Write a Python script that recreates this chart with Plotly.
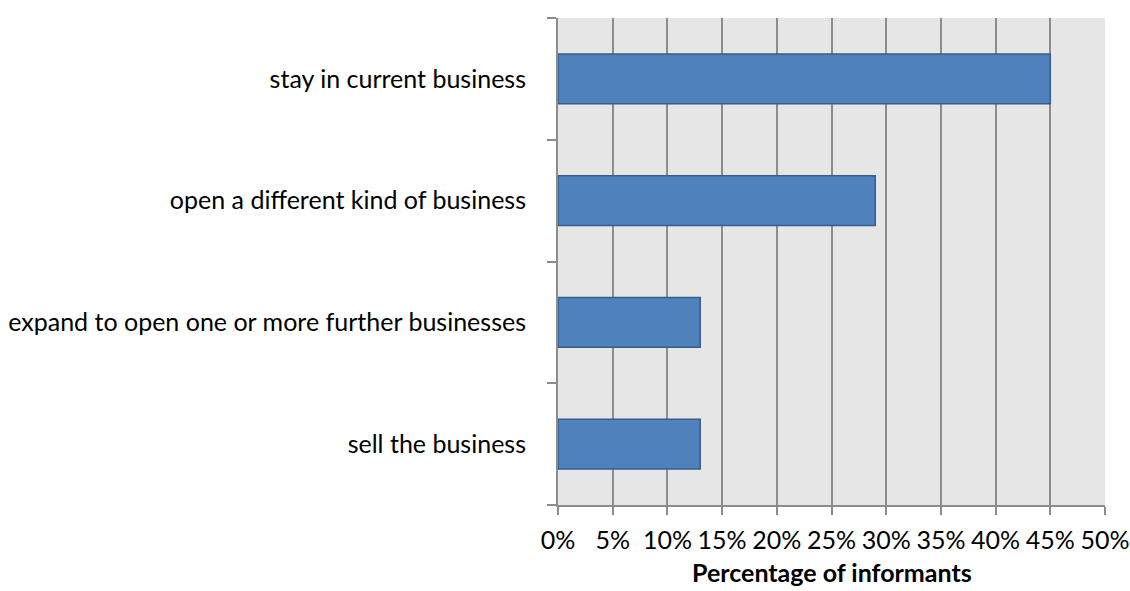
import plotly.graph_objects as go

# Survey answers, listed bottom to top as drawn
categories = [
    "sell the business",
    "expand to open one or more further businesses",
    "open a different kind of business",
    "stay in current business",
]
shares = [0.13, 0.13, 0.29, 0.45]
tick_values = [0, 0.05, 0.10, 0.15, 0.20, 0.25, 0.30, 0.35, 0.40, 0.45, 0.50]
tick_labels = ["0%", "5%", "10%", "15%", "20%", "25%", "30%", "35%", "40%", "45%", "50%"]
x_title = "Percentage of informants"

FONT = "Lato"
FONT_SIZE = 25
AXIS_GREY = "#8c8c8c"

fig = go.Figure(
    go.Bar(
        x=shares,
        y=categories,
        orientation="h",
        marker=dict(color="#4f81bd", line=dict(color="#385d8a", width=1.5)),
        hoverinfo="x+y",
    )
)

fig.update_layout(
    width=1130,
    height=591,
    margin=dict(l=558, r=25, t=18, b=86, autoexpand=False),
    paper_bgcolor="white",
    plot_bgcolor="#e6e6e6",
    bargap=0.59,
    showlegend=False,
    font=dict(family=FONT, size=FONT_SIZE, color="black"),
)

fig.update_xaxes(
    range=[0, 0.5],
    tickvals=tick_values,
    ticktext=tick_labels,
    showgrid=True,
    gridcolor=AXIS_GREY,
    gridwidth=2,
    zeroline=False,
    showline=True,
    linecolor=AXIS_GREY,
    linewidth=2,
    ticks="outside",
    ticklen=8,
    tickwidth=2,
    tickcolor=AXIS_GREY,
    ticklabelstandoff=4,
    automargin=False,
    tickfont=dict(family=FONT, size=FONT_SIZE, color="black"),
    fixedrange=True,
)

fig.update_yaxes(
    type="category",
    showgrid=False,
    zeroline=False,
    showline=True,
    linecolor=AXIS_GREY,
    linewidth=2,
    ticks="outside",
    tickson="boundaries",
    ticklen=9,
    tickwidth=2,
    tickcolor=AXIS_GREY,
    ticklabelstandoff=25,
    automargin=False,
    tickfont=dict(family=FONT, size=FONT_SIZE, color="black"),
    fixedrange=True,
)

# Axis title placed below the tick labels
fig.add_annotation(
    text=f"<b>{x_title}</b>",
    xref="x domain",
    yref="y domain",
    x=0.5,
    y=-0.138,
    xanchor="center",
    yanchor="middle",
    borderpad=0,
    showarrow=False,
    font=dict(family=FONT, size=FONT_SIZE, color="black"),
)

fig.write_html("out.html")
